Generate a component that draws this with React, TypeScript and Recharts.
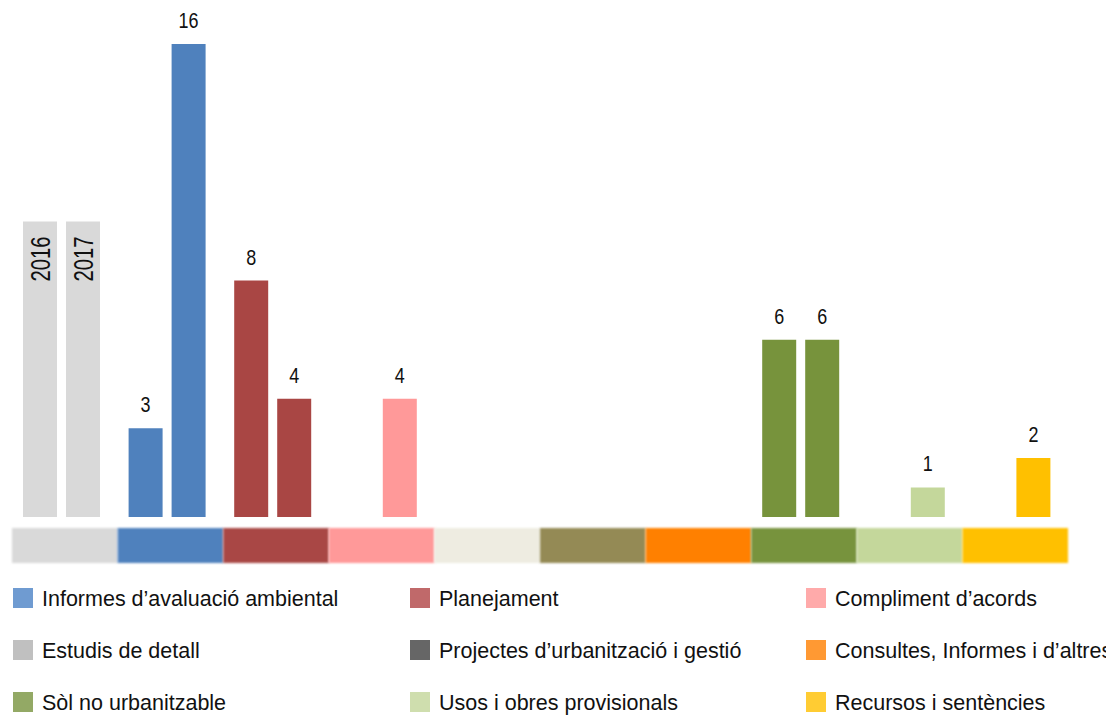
import { BarChart, Bar, XAxis, YAxis, Cell, LabelList } from "recharts";

// category 0 is the year key (grey bars with 2016 / 2017 written inside)
const categories = [
  "2016 / 2017",
  "Informes d’avaluació ambiental",
  "Planejament",
  "Compliment d’acords",
  "Estudis de detall",
  "Projectes d’urbanització i gestió",
  "Consultes, Informes i d’altres",
  "Sòl no urbanitzable",
  "Usos i obres provisionals",
  "Recursos i sentències",
];
const years = ["2016", "2017"];
const values2016 = [10, 3, 8, 0, 0, 0, 0, 6, 0, 0];
const values2017 = [10, 16, 4, 4, 0, 0, 0, 6, 1, 2];

const barColors = ["#D9D9D9", "#4F81BD", "#A94644", "#FF9999", "#EEECE1", "#948A54", "#FF8000", "#77933C", "#C4D79B", "#FFC000"];
const stripColors = barColors;

const legendItems = [
  { name: "Informes d’avaluació ambiental", color: "#6F9BD1" },
  { name: "Planejament", color: "#C0696A" },
  { name: "Compliment d’acords", color: "#FFAAAA" },
  { name: "Estudis de detall", color: "#C0C0C0" },
  { name: "Projectes d’urbanització i gestió", color: "#666666" },
  { name: "Consultes, Informes i d’altres", color: "#FF9933" },
  { name: "Sòl no urbanitzable", color: "#93A965" },
  { name: "Usos i obres provisionals", color: "#CFDEAE" },
  { name: "Recursos i sentències", color: "#FFCC33" },
];

const data = categories.map((c, i) => ({ name: c, y2016: values2016[i], y2017: values2017[i] }));

const W = 1106;
const H = 567;
const M = { top: 44, right: 41, bottom: 0, left: 9 };
const FONT = '"Liberation Sans", Arial, sans-serif';

const StripTick = (props: any) => {
  const { x, y, index } = props;
  const bw = (W - M.left - M.right) / categories.length;
  return (
    <g>
      {index === 0 && (
        <defs>
          <filter id="stripBlur" x="-5%" y="-20%" width="110%" height="140%">
            <feGaussianBlur stdDeviation="1.2" />
          </filter>
        </defs>
      )}
      <rect
        x={x - bw / 2 + 3}
        y={y + 11}
        width={bw}
        height={35}
        fill={stripColors[index]}
        filter="url(#stripBlur)"
      />
    </g>
  );
};

const makeLabel = (year: string) => (props: any) => {
  const { x, y, width, value, index } = props;
  if (index === 0) {
    const cx = x + width / 2 + 10;
    const cy = y + 15;
    return (
      <text
        x={cx}
        y={cy}
        transform={`rotate(-90, ${cx}, ${cy})`}
        textAnchor="end"
        fontSize={28}
        textLength={45}
        lengthAdjust="spacingAndGlyphs"
        fill="#111"
        fontFamily={FONT}
      >
        {year}
      </text>
    );
  }
  if (!value) return null;
  const s = String(value);
  return (
    <text
      x={x + width / 2}
      y={y - 16}
      textAnchor="middle"
      fontSize={22}
      textLength={s.length * 10}
      lengthAdjust="spacingAndGlyphs"
      fill="#111"
      fontFamily={FONT}
    >
      {s}
    </text>
  );
};

export default function App() {
  return (
    <div
      style={{
        position: "absolute",
        left: 0,
        top: 0,
        width: W,
        height: 715,
        overflow: "hidden",
        background: "#fff",
        fontFamily: FONT,
      }}
    >
      <BarChart width={W} height={H} data={data} margin={M} barSize={34} barGap={9}>
        <XAxis
          dataKey="name"
          axisLine={false}
          tickLine={false}
          tickSize={0}
          tickMargin={0}
          interval={0}
          height={50}
          tick={<StripTick />}
        />
        <YAxis hide domain={[0, 16]} />
        <Bar dataKey="y2016" isAnimationActive={false}>
          {data.map((d, i) => (
            <Cell key={`a-${i}`} fill={barColors[i]} />
          ))}
          <LabelList dataKey="y2016" content={makeLabel(years[0])} />
        </Bar>
        <Bar dataKey="y2017" isAnimationActive={false}>
          {data.map((d, i) => (
            <Cell key={`b-${i}`} fill={barColors[i]} />
          ))}
          <LabelList dataKey="y2017" content={makeLabel(years[1])} />
        </Bar>
      </BarChart>

      {/* Legend */}
      <div
        style={{
          position: "absolute",
          left: 13,
          top: 588,
          display: "grid",
          gridTemplateColumns: "397px 396px 320px",
          rowGap: 32,
        }}
      >
        {legendItems.map((item) => (
          <div key={item.name} style={{ display: "flex", alignItems: "center", height: 20, whiteSpace: "nowrap" }}>
            <div style={{ width: 20, height: 20, background: item.color, marginRight: 9, flexShrink: 0 }}></div>
            <span style={{ fontSize: 21.5, color: "#111", position: "relative", top: 1 }}>{item.name}</span>
          </div>
        ))}
      </div>
    </div>
  );
}
